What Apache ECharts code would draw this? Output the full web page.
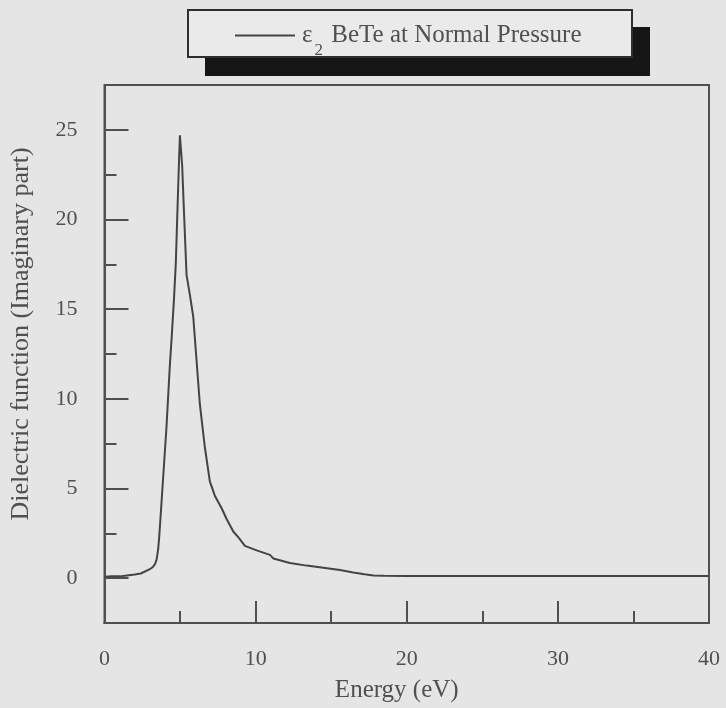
<!DOCTYPE html>
<html>
<head>
<meta charset="utf-8">
<script src="https://cdn.jsdelivr.net/npm/echarts@6/dist/echarts.min.js"></script>
<style>
  html, body { margin: 0; padding: 0; background: #e5e5e5; }
  #chart { width: 726px; height: 708px; }
</style>
</head>
<body>
<div id="chart"></div>
<script>
// Photon energy (eV)
const energy = [0, 0.5, 1.0, 1.5, 2.0, 2.4, 3.0, 3.2, 3.35, 3.45, 3.55, 3.62, 3.7, 3.88, 4.1, 4.32, 4.45, 4.6,
  4.72, 4.83, 4.92, 4.99, 5.14, 5.27, 5.43, 5.65, 5.87, 6.05, 6.31, 6.64, 6.97, 7.3, 7.75, 8.08, 8.52, 8.89,
  9.29, 10.07, 10.95, 11.17, 12.27, 13.38, 14.48, 15.58, 16.46, 17.2, 17.8, 18.5, 20, 25, 30, 35, 40];
// Imaginary part of the dielectric function, eps2
const eps2 = [0.08, 0.1, 0.1, 0.15, 0.2, 0.26, 0.5, 0.62, 0.8, 1.05, 1.6, 2.3, 3.3, 5.6, 8.4, 11.8, 13.5, 15.6,
  17.6, 20.6, 23.0, 24.7, 23.0, 20.2, 16.9, 15.8, 14.6, 12.6, 9.7, 7.3, 5.4, 4.6, 3.9, 3.3, 2.6, 2.25,
  1.8, 1.55, 1.3, 1.1, 0.85, 0.7, 0.58, 0.45, 0.32, 0.22, 0.15, 0.13, 0.12, 0.12, 0.12, 0.12, 0.12];

const xLabels = [0, 10, 20, 30, 40];
const xMajorTicks = [10, 20, 30];
const xMinorTicks = [5, 15, 25, 35];
const yLabels = [0, 5, 10, 15, 20, 25];
const yMajorTicks = [0, 5, 10, 15, 20, 25];
const yMinorTicks = [2.5, 7.5, 12.5, 17.5, 22.5];

const seriesName = 'eps2';
const ink = '#505050';
const font = 'Liberation Serif';

const points = energy.map((e, i) => [e, eps2[i]]);

const chart = echarts.init(document.getElementById('chart'), null, { renderer: 'canvas' });

function xAxisDef(ticks, len, labels) {
  return {
    type: 'value', min: 0, max: 40, position: 'bottom',
    axisLine: { show: true, onZero: false, lineStyle: { color: ink, width: 2 } },
    axisTick: { show: true, inside: true, length: len, customValues: ticks, lineStyle: { color: ink, width: 2 } },
    axisLabel: labels ? { show: true, customValues: labels, margin: 25, color: ink, fontFamily: font, fontSize: 22 } : { show: false },
    splitLine: { show: false }
  };
}
function yAxisDef(ticks, len, labels) {
  return {
    type: 'value', min: -2.5, max: 27.5, position: 'left',
    axisLine: { show: true, onZero: false, lineStyle: { color: ink, width: 2 } },
    axisTick: { show: true, inside: true, length: len, customValues: ticks, lineStyle: { color: ink, width: 2 } },
    axisLabel: labels ? { show: true, customValues: labels, margin: 27, color: ink, fontFamily: font, fontSize: 22 } : { show: false },
    splitLine: { show: false }
  };
}

const xMain = xAxisDef(xMajorTicks, 22, xLabels);
xMain.name = 'Energy (eV)';
xMain.nameLocation = 'middle';
xMain.nameGap = 55;
xMain.nameTextStyle = { color: ink, fontFamily: font, fontSize: 25, padding: [0, 20, 0, 0] };

const yMain = yAxisDef(yMajorTicks, 24, yLabels);
yMain.name = 'Dielectric function (Imaginary part)';
yMain.nameLocation = 'middle';
yMain.nameGap = 70;
yMain.nameTextStyle = { color: ink, fontFamily: font, fontSize: 26, padding: [0, 0, 0, 40] };

chart.setOption({
  backgroundColor: '#e5e5e5',
  animation: false,
  grid: {
    left: 104.5, top: 85, right: 17, bottom: 83,
    show: true, borderColor: ink, borderWidth: 2, backgroundColor: 'transparent'
  },
  // legend frame: drop shadow block and the boxed panel on top of it
  graphic: [
    { type: 'rect', z: 10, shape: { x: 205, y: 27, width: 445, height: 49 }, style: { fill: '#161616' } },
    { type: 'rect', z: 11, shape: { x: 188, y: 10, width: 444, height: 47 }, style: { fill: '#eaeaea', stroke: '#2e2e2e', lineWidth: 2 } }
  ],
  legend: {
    left: 235, top: 23, z: 20,
    padding: 0,
    itemWidth: 60, itemHeight: 2, itemGap: 0,
    data: [{ name: seriesName, icon: 'rect', itemStyle: { color: '#444' } }],
    formatter: () => '{e|ε}{s|2}{t| BeTe at Normal Pressure}',
    textStyle: {
      color: ink, fontFamily: font, fontSize: 25,
      rich: {
        e: { fontFamily: font, fontSize: 25, color: ink, padding: [0, 0, 0, 2] },
        s: { fontFamily: font, fontSize: 17, color: ink, padding: [30, 2, 0, 2] },
        t: { fontFamily: font, fontSize: 25, color: ink }
      }
    }
  },
  xAxis: [xMain, xAxisDef(xMinorTicks, 12, null)],
  yAxis: [yMain, yAxisDef(yMinorTicks, 12, null)],
  series: [{
    name: seriesName,
    type: 'line',
    xAxisIndex: 0, yAxisIndex: 0,
    data: points,
    showSymbol: false,
    smooth: false,
    lineStyle: { color: '#444', width: 2 },
    itemStyle: { color: '#444' }
  }]
});
</script>
</body>
</html>
